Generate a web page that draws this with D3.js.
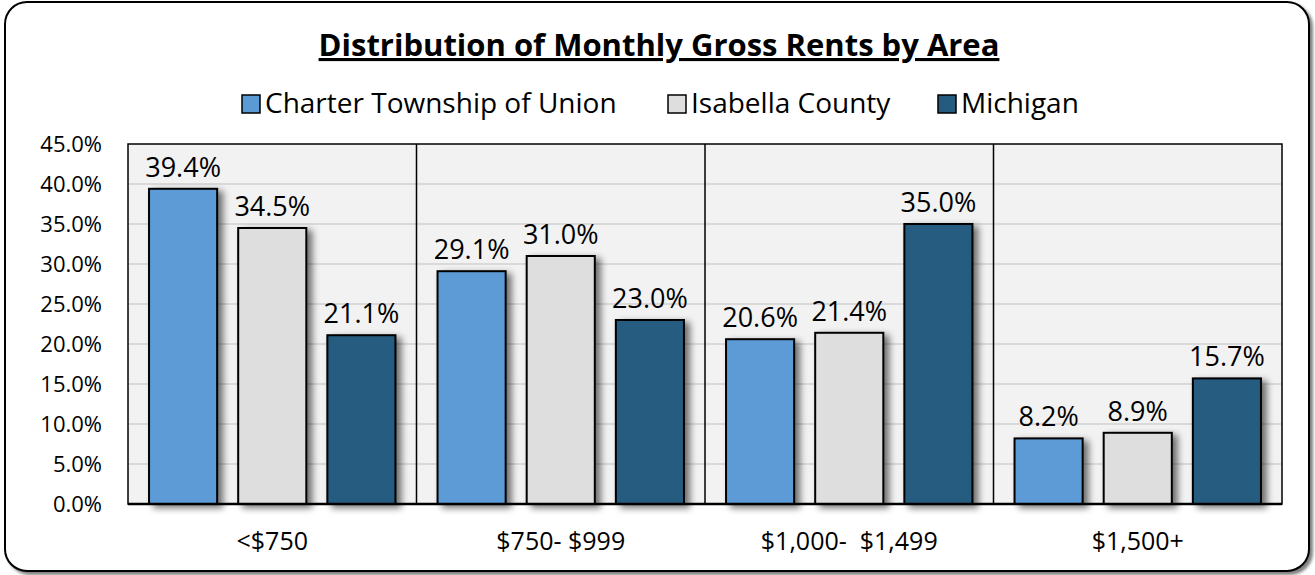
<!DOCTYPE html>
<html>
<head>
<meta charset="utf-8">
<script src="https://cdn.jsdelivr.net/npm/d3@7"></script>
<style>
  body { margin: 0; background: #fff; }
  text { font-family: "Open Sans", "Noto Sans", sans-serif; fill: #000; white-space: pre; }
</style>
</head>
<body>
<div id="graphic"></div>
<script>
(function() {
  var W = 1315, H = 575;
  var margin = { top: 144, left: 128, right: 33, bottom: 71 },
  width = W - margin.left - margin.right,
  height = H - margin.top - margin.bottom;

  /*** DATA ***/
  var categories = ["<$750", "$750- $999", "$1,000-  $1,499", "$1,500+"];
  var seriesNames = ["Charter Township of Union", "Isabella County", "Michigan"];
  var union = [39.4, 29.1, 20.6, 8.2];
  var isabella = [34.5, 31.0, 21.4, 8.9];
  var michigan = [21.1, 23.0, 35.0, 15.7];
  var yTicks = [0, 5, 10, 15, 20, 25, 30, 35, 40, 45];

  var seriesColors = ["#5b9bd5", "#dedede", "#265b80"];
  var gridColor = "#d9d9d9";
  var plotBg = "#f2f2f2";

  var rows = categories.map(function(c, i) {
    return { cat: c, values: [union[i], isabella[i], michigan[i]] };
  });

  var svg = d3.select("#graphic").append("svg")
    .attr("width", W).attr("height", H);

  var defs = svg.append("defs");
  var f = defs.append("filter").attr("id", "barShadow")
    .attr("x", "-20%").attr("y", "-20%").attr("width", "160%").attr("height", "140%");
  f.append("feGaussianBlur").attr("in", "SourceAlpha").attr("stdDeviation", 3.5);
  f.append("feOffset").attr("dx", 5).attr("dy", 3).attr("result", "ob");
  f.append("feComponentTransfer").append("feFuncA").attr("type", "linear").attr("slope", 0.55);
  var fm = f.append("feMerge");
  fm.append("feMergeNode");
  fm.append("feMergeNode").attr("in", "SourceGraphic");

  var fb = defs.append("filter").attr("id", "boxShadow")
    .attr("x", "-5%").attr("y", "-5%").attr("width", "110%").attr("height", "110%");
  fb.append("feGaussianBlur").attr("in", "SourceAlpha").attr("stdDeviation", 1.5);
  fb.append("feOffset").attr("dx", 3).attr("dy", 3).attr("result", "ob");
  fb.append("feComponentTransfer").append("feFuncA").attr("type", "linear").attr("slope", 0.5);
  var fbm = fb.append("feMerge");
  fbm.append("feMergeNode");
  fbm.append("feMergeNode").attr("in", "SourceGraphic");

  /*** OUTER FRAME ***/
  svg.append("rect")
    .attr("x", 5).attr("y", 2).attr("width", W - 11).attr("height", H - 6)
    .attr("rx", 22).attr("ry", 22)
    .attr("fill", "#fff").attr("stroke", "#000").attr("stroke-width", 2)
    .attr("filter", "url(#boxShadow)");

  /*** TITLE ***/
  svg.append("text")
    .attr("x", 659).attr("y", 56)
    .attr("text-anchor", "middle")
    .style("font-size", "31px").style("font-weight", "bold")
    .style("text-decoration", "underline")
    .text("Distribution of Monthly Gross Rents by Area");

  /*** LEGEND ***/
  var legendX = [242, 668, 938];
  var legend = svg.append("g").selectAll("g")
    .data(seriesNames).enter().append("g")
    .attr("transform", function(d, i) { return "translate(" + legendX[i] + ",95)"; });
  legend.append("rect")
    .attr("width", 18).attr("height", 18)
    .attr("fill", function(d, i) { return seriesColors[i]; })
    .attr("stroke", "#000").attr("stroke-width", 1.5);
  legend.append("text")
    .attr("x", 23).attr("y", 18)
    .style("font-size", "28px")
    .text(function(d) { return d; });

  /*** SCALES ***/
  var x = d3.scaleBand().domain(categories).range([0, width]).padding(0);
  var xs = d3.scaleBand().domain(d3.range(3)).range([0, x.bandwidth()]).padding(0.236);
  var y = d3.scaleLinear().domain([0, 45]).range([height, 0]);

  var g = svg.append("g")
    .attr("transform", "translate(" + margin.left + "," + margin.top + ")");

  g.append("rect").attr("width", width).attr("height", height).attr("fill", plotBg);

  g.selectAll(".grid").data(yTicks.slice(1, -1)).enter().append("line")
    .attr("class", "grid")
    .attr("x1", 0).attr("x2", width)
    .attr("y1", function(d) { return y(d); }).attr("y2", function(d) { return y(d); })
    .attr("stroke", gridColor).attr("stroke-width", 2);

  // category separators
  g.selectAll(".sep").data(categories.slice(1)).enter().append("line")
    .attr("class", "sep")
    .attr("x1", function(d) { return x(d); }).attr("x2", function(d) { return x(d); })
    .attr("y1", 0).attr("y2", height)
    .attr("stroke", "#000").attr("stroke-width", 1.5);

  /*** BARS ***/
  var groups = g.selectAll(".cat").data(rows).enter().append("g")
    .attr("class", "cat")
    .attr("transform", function(d) { return "translate(" + x(d.cat) + ",0)"; });

  groups.selectAll("rect").data(function(d) { return d.values; }).enter().append("rect")
    .attr("x", function(d, i) { return xs(i); })
    .attr("y", function(d) { return y(d); })
    .attr("width", xs.bandwidth())
    .attr("height", function(d) { return height - y(d); })
    .attr("fill", function(d, i) { return seriesColors[i]; })
    .attr("stroke", "#000").attr("stroke-width", 2)
    .attr("filter", "url(#barShadow)");

  groups.selectAll(".lbl").data(function(d) { return d.values; }).enter().append("text")
    .attr("class", "lbl")
    .attr("x", function(d, i) { return xs(i) + xs.bandwidth() / 2; })
    .attr("y", function(d) { return y(d) - 12; })
    .attr("text-anchor", "middle")
    .style("font-size", "27px")
    .text(function(d) { return d.toFixed(1) + "%"; });

  // plot frame
  g.append("rect").attr("width", width).attr("height", height)
    .attr("fill", "none").attr("stroke", "#000").attr("stroke-width", 1.5);
  g.append("line").attr("x1", 0).attr("x2", width)
    .attr("y1", height).attr("y2", height)
    .attr("stroke", "#000").attr("stroke-width", 2.5);

  /*** AXES ***/
  var yAxis = g.append("g")
    .call(d3.axisLeft(y).tickValues(yTicks).tickSize(0).tickPadding(26)
      .tickFormat(function(d) { return d.toFixed(1) + "%"; }));
  yAxis.select(".domain").remove();
  yAxis.selectAll("text").style("font-size", "22px").attr("fill", "#000")
    .style("font-family", "\"Open Sans\", sans-serif");

  var xAxis = g.append("g")
    .attr("transform", "translate(0," + height + ")")
    .call(d3.axisBottom(x).tickSize(0).tickPadding(28));
  xAxis.select(".domain").remove();
  xAxis.selectAll("text").style("font-size", "25px").attr("fill", "#000")
    .style("font-family", "\"Open Sans\", sans-serif");
})();
</script>
</body>
</html>
